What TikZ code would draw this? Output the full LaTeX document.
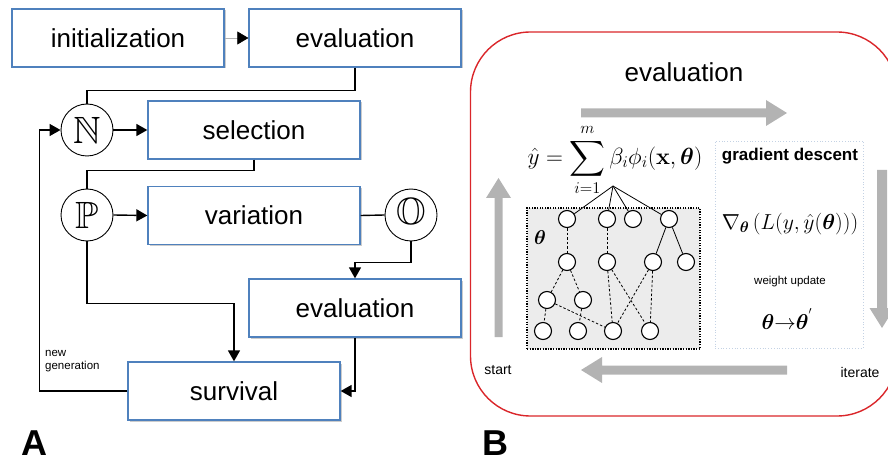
\documentclass[tikz,border=0pt]{standalone}
\usepackage{fix-cm}
\usepackage{amsmath,amssymb}
\usepackage{exscale}
\usepackage[no-math]{fontspec}
\setmainfont{Liberation Sans}
\usetikzlibrary{arrows.meta,shadows}
\definecolor{boxblue}{RGB}{79,129,189}
\definecolor{redline}{RGB}{218,38,42}
\definecolor{garrowc}{RGB}{179,179,179}
\definecolor{gdblue}{RGB}{196,210,228}
\begin{document}
\begin{tikzpicture}[x=1pt,y=-1pt,
  box/.style={draw=boxblue,line width=1.3pt,fill=white,minimum width=212pt,minimum height=58pt,inner sep=0pt,
    font=\fontsize{26}{30}\selectfont,
    drop shadow={shadow xshift=1.5pt,shadow yshift=-1.5pt,fill=black,opacity=0.2}},
  op/.style={circle,draw,line width=0.9pt,fill=white,minimum size=52pt,inner sep=0pt,font=\fontsize{38}{40}\selectfont},
  conn/.style={line width=1.4pt},
  arr/.style={conn,-{Triangle[length=11pt,width=12pt]}},
  nn/.style={circle,draw,line width=1.1pt,fill=white,minimum size=17pt,inner sep=0pt},
  solidl/.style={line width=0.8pt},
  dashl/.style={line width=0.8pt,dash pattern=on 2.5pt off 2pt},
  garrow/.style={fill=garrowc},
  lbl/.style={inner sep=0pt,font=\fontsize{36}{40}\selectfont\bfseries}
]
\useasboundingbox (0,0) rectangle (888,462);
\clip (0,0) rectangle (888,462);

% ---------- Panel A ----------
\node[box] (init) at (118,38) {initialization};
\node[box] (eval1) at (355,38) {evaluation};
\node[op] (N) at (87,130) {$\mathbb{N}$};
\node[box] (sel) at (254,130) {selection};
\node[op] (P) at (87,215) {$\mathbb{P}$};
\node[box] (var) at (254,215.5) {variation};
\node[op] (O) at (411,215) {$\mathbb{O}$};
\node[box] (eval2) at (355,308) {evaluation};
\node[box] (surv) at (234,391) {survival};

\draw[gray!60,line width=0.6pt,-{Triangle[length=11pt,width=13pt,color=black]}] (init.east) -- (eval1.west);
\draw[conn] (eval1.south) -- ++(0,23) -| (N.north);
\draw[arr] (N.east) -- (sel.west);
\draw[conn] (sel.south) -- ++(0,11) -| (P.north);
\draw[arr] (P.east) -- (var.west);
\draw[conn] (var.east) -- (O.west);
\draw[arr] (O.south) -- ++(0,21) -| (eval2.north);
\draw[arr] (eval2.south) |- (surv.east);
\draw[arr] (P.south) -- ++(0,62) -| (surv.north);
\draw[arr] (surv.west) -- ++(-88,0) |- (N.west);
\node[anchor=base west,align=left,inner sep=0pt,font=\fontsize{11.5}{13}\selectfont] (ng) at (45,369) {new\\generation};

\node[lbl,anchor=base] (labA) at (34.5,455) {A};

% ---------- Panel B ----------
\node[draw=redline,line width=1.4pt,rounded corners=60pt,minimum width=426.5pt,minimum height=384pt,inner sep=0pt] (Bbox) at (683.75,224) {};
\node[inner sep=0pt,font=\fontsize{26}{30}\selectfont] (evalB) at (684,72) {evaluation};

\fill[garrow] (581,108.5) -- (766,108.5) -- (766,100) -- (787,113) -- (766,126) -- (766,117.5) -- (581,117.5) -- cycle;
\fill[garrow] (787,365.5) -- (602,365.5) -- (602,357) -- (581,370) -- (602,383) -- (602,374.5) -- (787,374.5) -- cycle;
\fill[garrow] (494.5,337) -- (494.5,198) -- (486,198) -- (498.5,178) -- (511,198) -- (502.5,198) -- (502.5,337) -- cycle;
\fill[garrow] (877,170) -- (877,308) -- (869.5,308) -- (882,328) -- (894.5,308) -- (887,308) -- (887,170) -- cycle;

\node[inner sep=0pt,font=\fontsize{14}{16}\selectfont] (start) at (498,370) {start};
\node[inner sep=0pt,font=\fontsize{14}{16}\selectfont] (iter) at (860,372) {iterate};

\node[inner sep=0pt,font=\fontsize{23.4}{27}\selectfont] (sum) at (615,160) {$\displaystyle \hat{y}=\sum_{i=1}^{m}\beta_i\phi_i(\mathbf{x},\boldsymbol{\theta})$};
\coordinate (hub) at (613,186);

\node[draw,line width=1.3pt,dash pattern=on 1.3pt off 1.3pt,fill=gray!15,minimum width=173pt,minimum height=141pt,inner sep=0pt] (net) at (613.5,278.5) {};
\node[inner sep=0pt,font=\fontsize{20}{24}\selectfont] (th) at (540,238) {$\boldsymbol{\theta}$};

\node[nn] (n11) at (567,219) {};
\node[nn] (n12) at (607,219) {};
\node[nn] (n13) at (633,219) {};
\node[nn] (n14) at (669,219) {};
\node[nn] (n21) at (567,262) {};
\node[nn] (n22) at (607,262) {};
\node[nn] (n23) at (653,262) {};
\node[nn] (n24) at (686,262) {};
\node[nn] (n31) at (547,300) {};
\node[nn] (n32) at (583,300) {};
\node[nn] (n41) at (543,331) {};
\node[nn] (n42) at (578,331) {};
\node[nn] (n43) at (613,331) {};
\node[nn] (n44) at (650,331) {};

\foreach \t in {n11,n12,n13,n14} \draw[solidl] (hub) -- (\t);
\draw[solidl] (n14) -- (n23);
\draw[solidl] (n14) -- (n24);
\draw[dashl] (n11) -- (n21);
\draw[dashl] (n12) -- (n22);
\draw[dashl] (n21) -- (n31);
\draw[dashl] (n21) -- (n32);
\draw[dashl] (n31) -- (n41);
\draw[dashl] (n32) -- (n42);
\draw[dashl] (n31) -- (n43);
\draw[dashl] (n22) -- (n43);
\draw[dashl] (n22) -- (n44);
\draw[dashl] (n23) -- (n43);
\draw[dashl] (n23) -- (n44);

\node[draw=gdblue,line width=0.8pt,dotted,minimum width=148pt,minimum height=207pt,inner sep=0pt] (gd) at (789,244.5) {};
\node[inner sep=0pt,font=\fontsize{17}{20}\selectfont\bfseries] (gdt) at (790,156) {gradient descent};
\node[inner sep=0pt,font=\fontsize{21.7}{25}\selectfont] (grad) at (790,224) {$\nabla_{\boldsymbol{\theta}}\left(L(y,\hat{y}(\boldsymbol{\theta}))\right)$};
\node[inner sep=0pt,font=\fontsize{11.5}{13}\selectfont] (wu) at (790,282) {weight update};
\node[inner sep=0pt,font=\fontsize{21.5}{25}\selectfont] (upd) at (787,319) {$\boldsymbol{\theta}{\rightarrow}\boldsymbol{\theta}^{'}$};

\node[lbl,anchor=base] (labB) at (495,455) {B};
\end{tikzpicture}
\end{document}
